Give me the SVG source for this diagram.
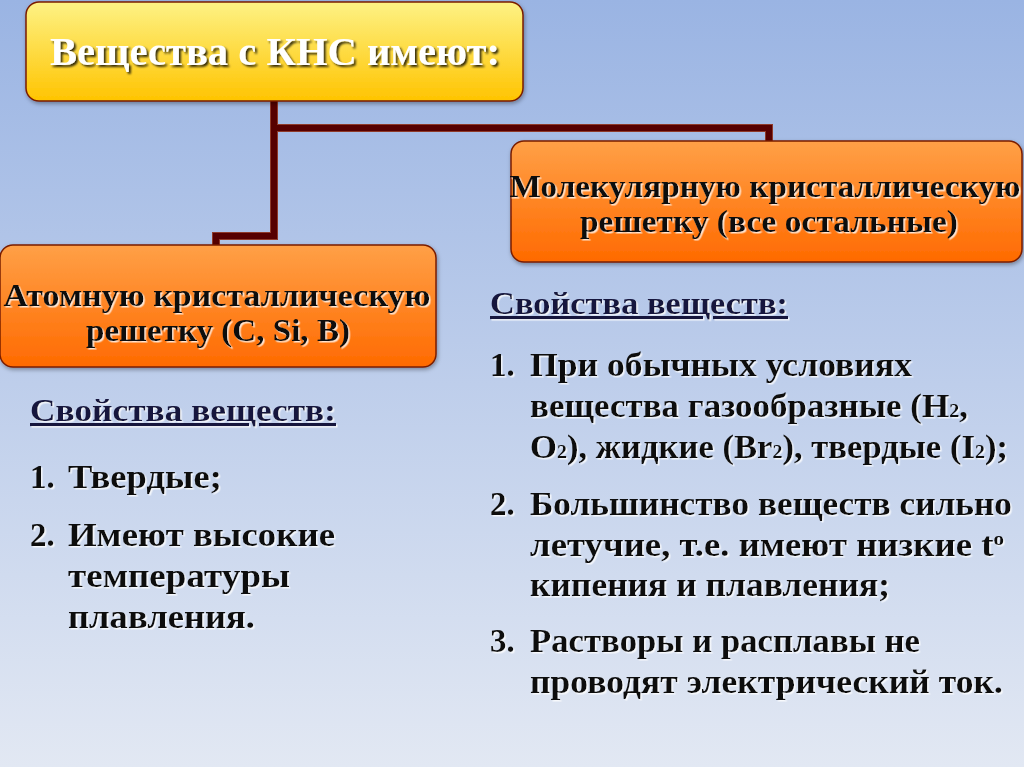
<svg xmlns="http://www.w3.org/2000/svg" width="1024" height="767" viewBox="0 0 1024 767">
<defs>
<linearGradient id="bg" x1="0" y1="0" x2="0" y2="1">
<stop offset="0" stop-color="#9ab4e3"/>
<stop offset="1" stop-color="#e2e8f3"/>
</linearGradient>
<linearGradient id="yel" x1="0" y1="0" x2="0" y2="1">
<stop offset="0" stop-color="#fdf285"/>
<stop offset="1" stop-color="#ffc400"/>
</linearGradient>
<linearGradient id="org" x1="0" y1="0" x2="0" y2="1">
<stop offset="0" stop-color="#ffa047"/>
<stop offset="1" stop-color="#ff6a00"/>
</linearGradient>
<filter id="boxsh" x="-5%" y="-10%" width="110%" height="130%">
<feDropShadow dx="1" dy="2" stdDeviation="2" flood-color="#000" flood-opacity="0.35"/>
</filter>
<filter id="lightsh" x="-5%" y="-20%" width="110%" height="140%">
<feDropShadow dx="1.5" dy="1.5" stdDeviation="0.4" flood-color="#ffffff" flood-opacity="0.8"/>
</filter>
<filter id="darksh" x="-5%" y="-20%" width="110%" height="140%">
<feDropShadow dx="2" dy="2" stdDeviation="0.8" flood-color="#000" flood-opacity="0.8"/>
</filter>
</defs>
<style>
text{font-family:"Liberation Serif","DejaVu Serif",serif;font-weight:bold;}
.box{stroke:#7a1e00;stroke-width:1.5;filter:url(#boxsh);}
.lbl{font-size:31px;fill:#111;text-anchor:middle;filter:url(#lightsh);}
.title{font-size:40px;fill:#fff;text-anchor:middle;filter:url(#darksh);}
.head{font-size:31px;fill:#14143c;text-decoration:underline;filter:url(#lightsh);}
.li{font-size:33px;fill:#111;filter:url(#lightsh);}
.sub{font-size:19px;}
.conn{fill:none;stroke:#560000;stroke-width:6;stroke-linejoin:miter;}
.connE{fill:none;stroke:#8e3a2a;stroke-width:8;stroke-linejoin:miter;}
</style>
<rect x="0" y="0" width="1024" height="767" fill="url(#bg)"/>

<g id="connectors">
<path class="connE" d="M274 101 V236 H216 V247 M274 128 H769 V142"/>
<path class="conn" d="M274 101 V236 H216 V247 M274 128 H769 V142"/>
</g>

<g id="top">
<rect class="box" x="26" y="2" width="497" height="99" rx="13" fill="url(#yel)"/>
<text class="title" x="275" y="65" textLength="450" lengthAdjust="spacingAndGlyphs">Вещества с КНС имеют:</text>
</g>

<g id="atomic">
<rect class="box" x="0" y="245" width="436" height="122" rx="13" fill="url(#org)"/>
<text class="lbl" x="217" y="306" textLength="427" lengthAdjust="spacingAndGlyphs">Атомную кристаллическую</text>
<text class="lbl" x="218" y="341" textLength="264" lengthAdjust="spacingAndGlyphs">решетку (C, Si, B)</text>
</g>

<g id="molecular">
<rect class="box" x="511" y="141" width="511" height="121" rx="13" fill="url(#org)"/>
<text class="lbl" x="765" y="197" textLength="511" lengthAdjust="spacingAndGlyphs">Молекулярную кристаллическую</text>
<text class="lbl" x="769" y="232" textLength="378" lengthAdjust="spacingAndGlyphs">решетку (все остальные)</text>
</g>

<g id="left-props">
<text class="head" x="30" y="421" textLength="306" lengthAdjust="spacingAndGlyphs">Свойства веществ:</text>
<text class="li" x="30" y="488">1.</text>
<text class="li" x="68" y="488" textLength="154" lengthAdjust="spacingAndGlyphs">Твердые;</text>
<text class="li" x="30" y="546">2.</text>
<text class="li" x="68" y="546" textLength="267" lengthAdjust="spacingAndGlyphs">Имеют высокие</text>
<text class="li" x="68" y="587" textLength="222" lengthAdjust="spacingAndGlyphs">температуры</text>
<text class="li" x="68" y="628" textLength="187" lengthAdjust="spacingAndGlyphs">плавления.</text>
</g>

<g id="right-props">
<text class="head" x="490" y="314" textLength="298" lengthAdjust="spacingAndGlyphs">Свойства веществ:</text>
<text class="li" x="490" y="376">1.</text>
<text class="li" x="530" y="376" textLength="382" lengthAdjust="spacingAndGlyphs">При обычных условиях</text>
<text class="li" x="530" y="417" textLength="438" lengthAdjust="spacingAndGlyphs">вещества газообразные (H<tspan class="sub">2</tspan>,</text>
<text class="li" x="530" y="458" textLength="478" lengthAdjust="spacingAndGlyphs">O<tspan class="sub">2</tspan>), жидкие (Br<tspan class="sub">2</tspan>), твердые (I<tspan class="sub">2</tspan>);</text>
<text class="li" x="490" y="515">2.</text>
<text class="li" x="530" y="515" textLength="482" lengthAdjust="spacingAndGlyphs">Большинство веществ сильно</text>
<text class="li" x="530" y="556" textLength="474" lengthAdjust="spacingAndGlyphs">летучие, т.е. имеют низкие t<tspan class="sub" dy="-11">o</tspan></text>
<text class="li" x="530" y="596" textLength="360" lengthAdjust="spacingAndGlyphs">кипения и плавления;</text>
<text class="li" x="490" y="652">3.</text>
<text class="li" x="530" y="652" textLength="390" lengthAdjust="spacingAndGlyphs">Растворы и расплавы не</text>
<text class="li" x="530" y="693" textLength="473" lengthAdjust="spacingAndGlyphs">проводят электрический ток.</text>
</g>
</svg>
